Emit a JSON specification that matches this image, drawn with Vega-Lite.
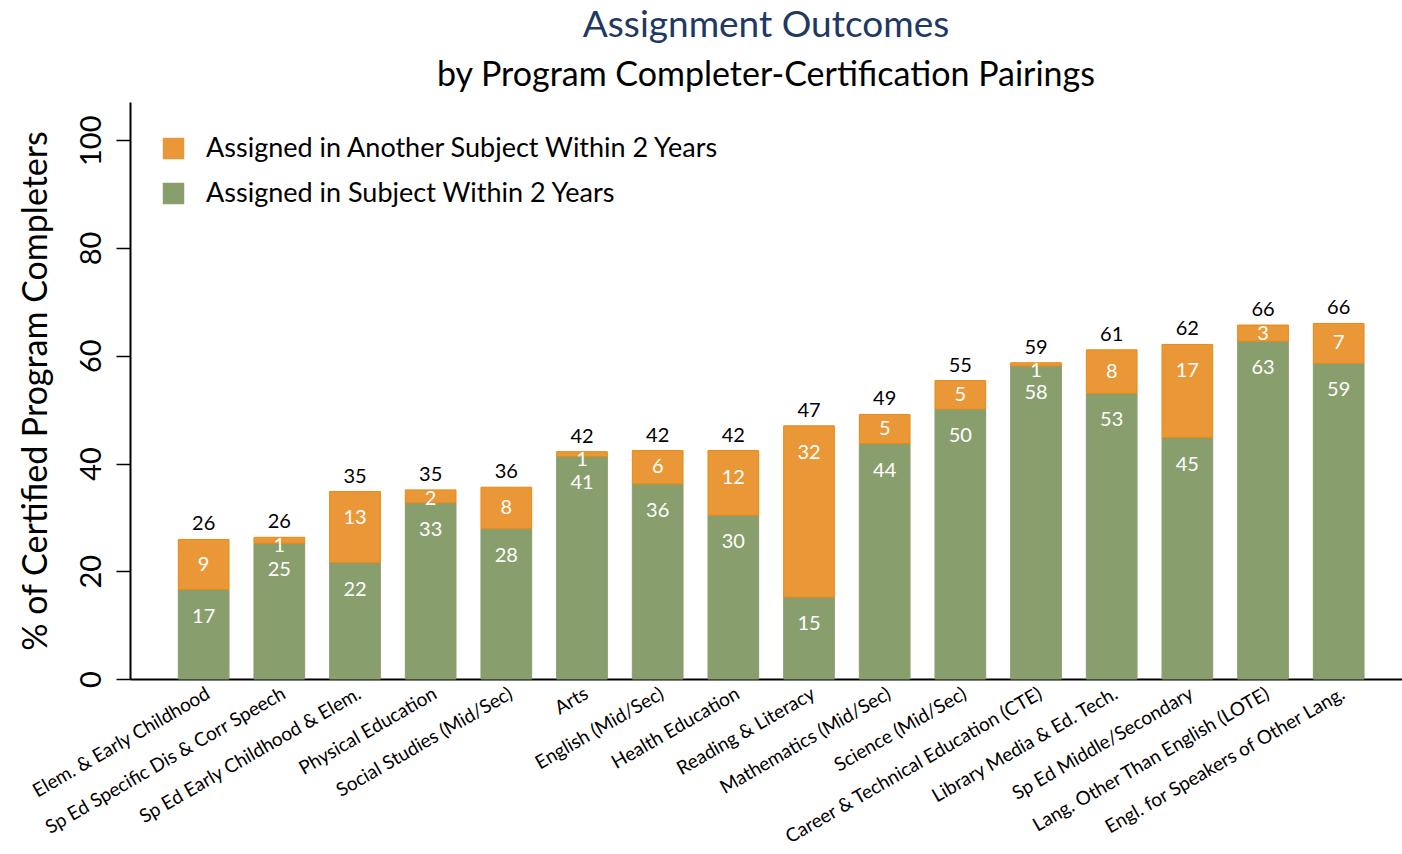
{
  "$schema": "https://vega.github.io/schema/vega-lite/v6.json",
  "width": 1272,
  "height": 577,
  "autosize": {"type": "none"},
  "padding": {"left": 130, "top": 102, "right": 0, "bottom": 175},
  "background": "white",
  "title": {
    "text": "Assignment Outcomes",
    "subtitle": "by Program Completer-Certification Pairings",
    "anchor": "middle",
    "frame": "group",
    "font": "Lato",
    "fontSize": 37,
    "fontWeight": "normal",
    "color": "#203864",
    "subtitleFont": "Lato",
    "subtitleFontSize": 34,
    "subtitleColor": "#000000",
    "subtitlePadding": 14,
    "offset": 8
  },
  "config": {"view": {"stroke": null}, "font": "Lato"},
  "data": {
    "values": [
      {"category": "Elem. & Early Childhood", "type": "Assigned in Subject Within 2 Years", "value": 16.6},
      {"category": "Elem. & Early Childhood", "type": "Assigned in Another Subject Within 2 Years", "value": 9.3},
      {"category": "Sp Ed Specific Dis & Corr Speech", "type": "Assigned in Subject Within 2 Years", "value": 25.2},
      {"category": "Sp Ed Specific Dis & Corr Speech", "type": "Assigned in Another Subject Within 2 Years", "value": 1.1},
      {"category": "Sp Ed Early Childhood & Elem.", "type": "Assigned in Subject Within 2 Years", "value": 21.6},
      {"category": "Sp Ed Early Childhood & Elem.", "type": "Assigned in Another Subject Within 2 Years", "value": 13.2},
      {"category": "Physical Education", "type": "Assigned in Subject Within 2 Years", "value": 32.7},
      {"category": "Physical Education", "type": "Assigned in Another Subject Within 2 Years", "value": 2.4},
      {"category": "Social Studies (Mid/Sec)", "type": "Assigned in Subject Within 2 Years", "value": 27.9},
      {"category": "Social Studies (Mid/Sec)", "type": "Assigned in Another Subject Within 2 Years", "value": 7.7},
      {"category": "Arts", "type": "Assigned in Subject Within 2 Years", "value": 41.3},
      {"category": "Arts", "type": "Assigned in Another Subject Within 2 Years", "value": 0.9},
      {"category": "English (Mid/Sec)", "type": "Assigned in Subject Within 2 Years", "value": 36.2},
      {"category": "English (Mid/Sec)", "type": "Assigned in Another Subject Within 2 Years", "value": 6.2},
      {"category": "Health Education", "type": "Assigned in Subject Within 2 Years", "value": 30.4},
      {"category": "Health Education", "type": "Assigned in Another Subject Within 2 Years", "value": 12.0},
      {"category": "Reading & Literacy", "type": "Assigned in Subject Within 2 Years", "value": 15.2},
      {"category": "Reading & Literacy", "type": "Assigned in Another Subject Within 2 Years", "value": 31.8},
      {"category": "Mathematics (Mid/Sec)", "type": "Assigned in Subject Within 2 Years", "value": 43.7},
      {"category": "Mathematics (Mid/Sec)", "type": "Assigned in Another Subject Within 2 Years", "value": 5.4},
      {"category": "Science (Mid/Sec)", "type": "Assigned in Subject Within 2 Years", "value": 50.1},
      {"category": "Science (Mid/Sec)", "type": "Assigned in Another Subject Within 2 Years", "value": 5.3},
      {"category": "Career & Technical Education (CTE)", "type": "Assigned in Subject Within 2 Years", "value": 58.1},
      {"category": "Career & Technical Education (CTE)", "type": "Assigned in Another Subject Within 2 Years", "value": 0.6},
      {"category": "Library Media & Ed. Tech.", "type": "Assigned in Subject Within 2 Years", "value": 53.0},
      {"category": "Library Media & Ed. Tech.", "type": "Assigned in Another Subject Within 2 Years", "value": 8.1},
      {"category": "Sp Ed Middle/Secondary", "type": "Assigned in Subject Within 2 Years", "value": 44.8},
      {"category": "Sp Ed Middle/Secondary", "type": "Assigned in Another Subject Within 2 Years", "value": 17.3},
      {"category": "Lang. Other Than English (LOTE)", "type": "Assigned in Subject Within 2 Years", "value": 62.7},
      {"category": "Lang. Other Than English (LOTE)", "type": "Assigned in Another Subject Within 2 Years", "value": 3.0},
      {"category": "Engl. for Speakers of Other Lang.", "type": "Assigned in Subject Within 2 Years", "value": 58.6},
      {"category": "Engl. for Speakers of Other Lang.", "type": "Assigned in Another Subject Within 2 Years", "value": 7.4}
    ]
  },
  "encoding": {
    "x": {
      "field": "category",
      "type": "nominal",
      "sort": null,
      "scale": {"paddingInner": 0.33, "paddingOuter": 0.57, "align": 0.56},
      "axis": {
        "title": null,
        "labelAngle": -30,
        "labelAlign": "right",
        "labelBaseline": "top",
        "labelFontSize": 19,
        "labelColor": "#000000",
        "labelFont": "Lato",
        "labelLimit": 0,
        "labelPadding": 5,
        "ticks": false,
        "domainColor": "#000000",
        "domainWidth": 2
      }
    }
  },
  "layer": [
    {
      "mark": {"type": "bar", "strokeWidth": 1},
      "encoding": {
        "y": {
          "field": "value",
          "type": "quantitative",
          "stack": "zero",
          "scale": {"domain": [0, 107.1], "nice": false},
          "axis": {
            "values": [0, 20, 40, 60, 80, 100],
            "title": "% of Certified Program Completers",
            "titleFont": "Lato",
            "titleFontSize": 34,
            "titleFontWeight": "normal",
            "titleColor": "#000000",
            "titlePadding": 24,
            "labelAngle": -90,
            "labelAlign": "center",
            "labelBaseline": "bottom",
            "labelFontSize": 29,
            "labelColor": "#000000",
            "labelPadding": 10,
            "grid": false,
            "tickSize": 14,
            "tickColor": "#000000",
            "tickWidth": 1.5,
            "domainColor": "#000000",
            "domainWidth": 2
          }
        },
        "color": {
          "field": "type",
          "type": "nominal",
          "scale": {
            "domain": ["Assigned in Another Subject Within 2 Years", "Assigned in Subject Within 2 Years"],
            "range": ["#EA9737", "#889E6D"]
          },
          "legend": {
            "title": null,
            "orient": "none",
            "legendX": 30,
            "legendY": 33,
            "symbolType": "square",
            "symbolSize": 460,
            "symbolStrokeWidth": 0,
            "labelFontSize": 27,
            "labelFont": "Lato",
            "labelColor": "#000000",
            "labelOffset": 19,
            "rowPadding": 17,
            "labelLimit": 0
          }
        },
        "stroke": {
          "field": "type",
          "type": "nominal",
          "scale": {
            "domain": ["Assigned in Another Subject Within 2 Years", "Assigned in Subject Within 2 Years"],
            "range": ["#E58A17", "#889E6D"]
          },
          "legend": null
        },
        "order": {"field": "type", "sort": "descending"}
      }
    },
    {
      "transform": [
        {"stack": "value", "groupby": ["category"], "sort": [{"field": "type", "order": "descending"}], "as": ["y0", "y1"]},
        {"calculate": "datum.y1 - min(5, max(1.6, (datum.y1 - datum.y0) / 2))", "as": "ly"}
      ],
      "mark": {"type": "text", "color": "#FFFFFF", "fontSize": 20, "font": "Lato", "baseline": "middle"},
      "encoding": {
        "y": {"field": "ly", "type": "quantitative"},
        "text": {"field": "value", "type": "quantitative", "format": ".0f"}
      }
    },
    {
      "transform": [
        {"aggregate": [{"op": "sum", "field": "value", "as": "total"}], "groupby": ["category"]}
      ],
      "mark": {"type": "text", "color": "#000000", "fontSize": 20, "font": "Lato", "baseline": "middle", "dy": -15},
      "encoding": {
        "y": {"field": "total", "type": "quantitative"},
        "text": {"field": "total", "type": "quantitative", "format": ".0f"}
      }
    }
  ]
}
